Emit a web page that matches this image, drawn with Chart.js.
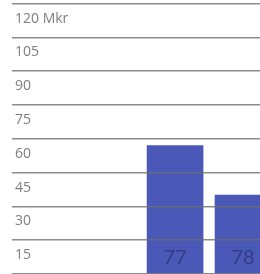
<!DOCTYPE html>
<html>
<head>
<meta charset="utf-8">
<script src="https://cdn.jsdelivr.net/npm/chart.js@4"></script>
<style>
  html, body { margin: 0; padding: 0; background: #fff; overflow: hidden; }
  #wrap { width: 260px; height: 274px; }
</style>
</head>
<body>
<div id="wrap"><canvas id="chart"></canvas></div>
<script>
// år (kategorier) och värden i Mkr
const categories = ['77', '78'];
const values = [57, 35];
const yTicks = [15, 30, 45, 60, 75, 90, 105, 120];
const yUnit = 'Mkr';

// ritar årtalen inne i staplarna
const barLabels = {
  id: 'barLabels',
  afterDraw(chart) {
    const ctx = chart.ctx;
    const x = chart.scales.x;
    ctx.save();
    ctx.font = '20px Lato';
    ctx.fillStyle = 'rgba(45, 55, 120, 0.8)';
    ctx.textAlign = 'center';
    ctx.textBaseline = 'middle';
    categories.forEach(c => {
      ctx.fillText(c, x.getPixelForValue(Number(c)), chart.chartArea.bottom - 16);
    });
    ctx.restore();
  }
};

new Chart(document.getElementById('chart'), {
  type: 'bar',
  data: {
    datasets: [{
      data: categories.map((c, i) => ({ x: Number(c), y: values[i] })),
      backgroundColor: 'rgb(74, 88, 184)',
      borderWidth: 0,
      barThickness: 56
    }]
  },
  options: {
    responsive: true,
    maintainAspectRatio: false,
    animation: false,
    layout: { autoPadding: false, padding: { left: 12, top: 0, right: 0, bottom: 0 } },
    plugins: { legend: { display: false }, tooltip: { enabled: false } },
    scales: {
      x: { type: 'linear', display: false, offset: false, min: 74.6, max: 78.25 },
      y: {
        min: 0,
        max: 121.6,
        border: { display: false },
        grid: { z: 1, color: 'rgba(110, 110, 110, 0.8)', lineWidth: 1.5, drawTicks: false },
        afterBuildTicks(axis) {
          axis.ticks = [0].concat(yTicks).map(v => ({ value: v }));
        },
        // inga extra marginaler för etiketterna
        afterFit(s) {
          s.width = 0;
          s.paddingTop = 0;
          s.paddingBottom = 0;
          s.paddingLeft = 0;
          s.paddingRight = 0;
        },
        ticks: {
          mirror: true,
          padding: 3,
          labelOffset: 15,
          color: '#7e7e7e',
          font: { family: 'Open Sans', size: 14 },
          callback(v) {
            if (v === 0) return '';
            return v === yTicks[yTicks.length - 1] ? v + ' ' + yUnit : String(v);
          }
        }
      }
    }
  },
  plugins: [barLabels]
});
</script>
</body>
</html>
